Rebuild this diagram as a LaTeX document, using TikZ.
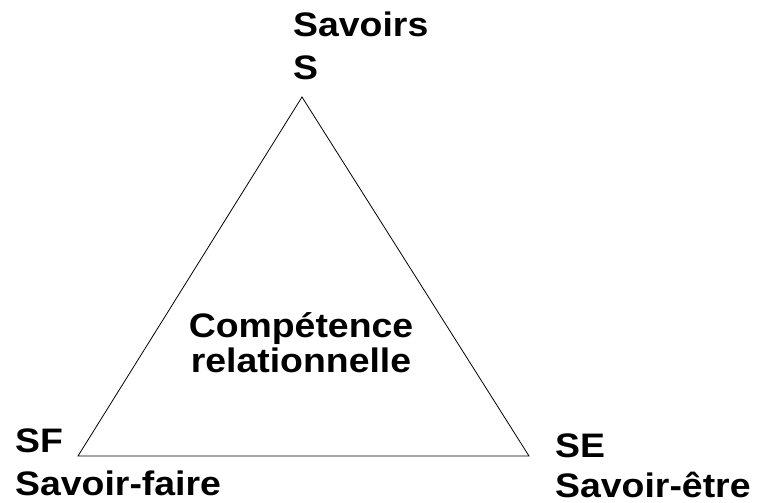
\documentclass[tikz,border=0pt]{standalone}
\usepackage{fontspec}
\setmainfont{Liberation Sans}[FakeStretch=1.1]
\usepackage{tikz}

\begin{document}
\begin{tikzpicture}
          [x=1pt,y=-1pt,every node/.style={inner sep=0pt,font=\bfseries\fontsize{34}{35}\selectfont}]

          \useasboundingbox (0,0) rectangle (764,503);

          \coordinate (s) at (302,97);
          \coordinate (sf) at (78,456);
          \coordinate (se) at (529,456);

          \node[anchor=base west] (savoirs) at (293,37) {Savoirs};
          \node[anchor=base west] (sname) at (293,80) {S};
          \node[anchor=base west] (sfname) at (15,452) {SF};
          \node[anchor=base west] (savoirfaire) at (15,495) {Savoir-faire};
          \node[anchor=base west] (sename) at (555,457) {SE};
          \node[anchor=base west] (savoiretre) at (555,497) {Savoir-être};
          \node[align=center] (comp) at (301,343) {Compétence\\relationnelle};

          \draw[line width=0.8pt] (s) -- (sf) -- (se) -- cycle;
        \end{tikzpicture}
\end{document}
